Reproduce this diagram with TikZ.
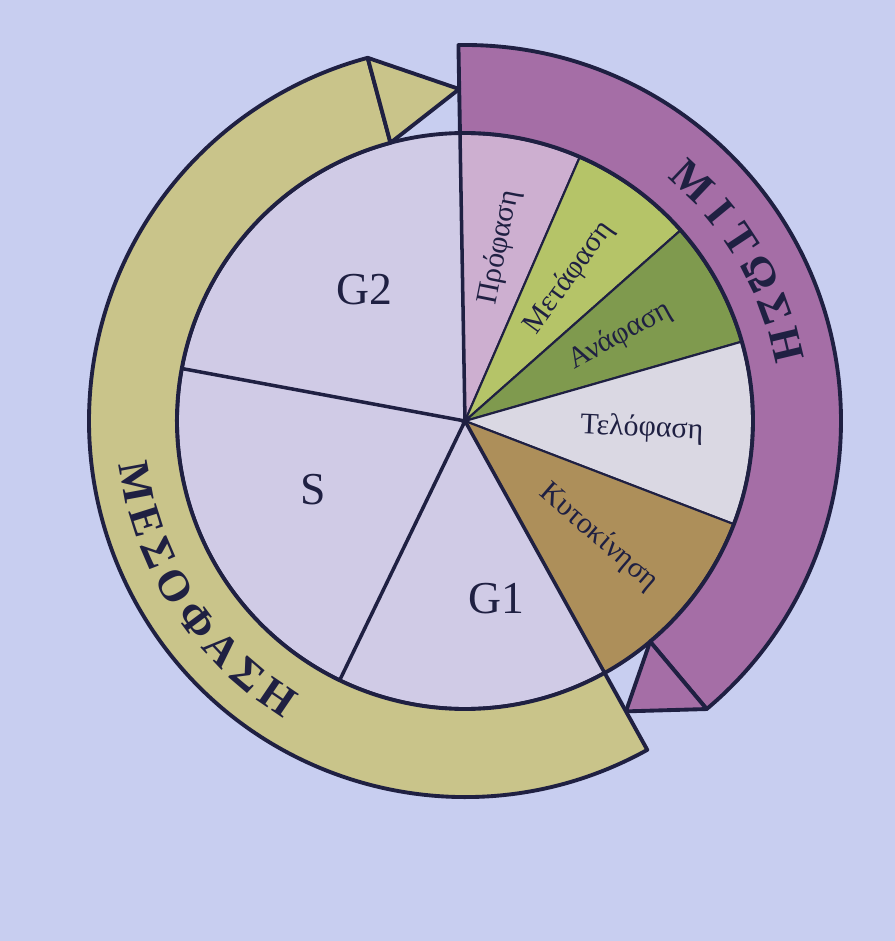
\documentclass[tikz,border=0pt]{standalone}
\usepackage{fontspec}
\setmainfont{Liberation Serif}
\usepackage{xcolor}
\definecolor{pagebg}{HTML}{C8CEF0}
\definecolor{cellbg}{HTML}{D0CBE6}
\definecolor{ink}{HTML}{1F2042}
\definecolor{prophase}{HTML}{CDAFD0}
\definecolor{metaphase}{HTML}{B5C468}
\definecolor{anaphase}{HTML}{7F9A4E}
\definecolor{telophase}{HTML}{DAD8E3}
\definecolor{cyto}{HTML}{AD8F5A}
\definecolor{mitosis}{HTML}{A56EA6}
\definecolor{interphase}{HTML}{C9C48A}
\tikzset{sect/.style={draw=ink,line width=0.6pt},
  band/.style={draw=ink,line width=1.1pt,line join=round},
  spoke/.style={draw=ink,line width=1pt},
  phase/.style={font=\fontsize{8.5}{10}\selectfont,text=ink,inner sep=0pt},
  stage/.style={font=\fontsize{13}{15}\selectfont,text=ink},
  caps/.style={font=\bfseries\fontsize{12.5}{15}\selectfont,text=ink,inner sep=0pt}}

\begin{document}
\begin{tikzpicture}[>=stealth]
    \useasboundingbox (-4.65,-5.20) rectangle (4.30,4.21);
    \fill[pagebg] (-4.65,-5.20) rectangle (4.30,4.21);
    \coordinate (o) at (0,0);

    % cell and phases of mitosis
    \fill[cellbg] (o) circle (2.88);
    \foreach \a/\b/\c/\t [count=\i] in {91/66.5/prophase/Πρόφαση,
        66.5/41.5/metaphase/Μετάφαση, 41.5/16/anaphase/Ανάφαση,
        16/-21/telophase/Τελόφαση, -21/-61/cyto/Κυτοκίνηση}
    {
        \filldraw[sect,fill=\c] (o) -- (\a:2.88) arc (\a:\b:2.88) -- cycle;
        \node[phase,rotate={(\a+\b)/2}] (ph\i) at ({(\a+\b)/2}:1.77) {\t};
    }
    \draw[spoke] (o) -- (91:2.88);
    \draw[spoke] (o) -- (169.5:2.88);
    \draw[spoke] (o) -- (-115.8:2.88);
    \draw[spoke] (o) -- (-61:2.88);
    \draw[band] (o) circle (2.88);

    \node[stage] (g2) at (127.4:1.65) {G2};
    \node[stage] (s) at (204.4:1.67) {S};
    \node[stage] (g1) at (-79.8:1.80) {G1};

    % mitosis band
    \draw[band,fill=mitosis] (91:2.88) -- (91:3.76) arc (91:-50:3.76)
        -- (-50:2.88) arc (-50:91:2.88) -- cycle;
    \draw[band,fill=mitosis] (-50:3.76) -- (-61:3.32) -- (-50:2.88) -- cycle;

    % interphase band
    \draw[band,fill=interphase] (-61:2.88) -- (-61:3.76) arc (-61:-255:3.76)
        -- (-255:2.88) arc (-255:-61:2.88) -- cycle;
    \draw[band,fill=interphase] (-255:3.76) -- (-269:3.32) -- (-255:2.88) -- cycle;

    % band titles
    \foreach \l/\a [count=\i] in {Μ/46.5,Ι/39.4,Τ/33.4,Ω/26.6,Σ/19.9,Η/13.4}
        \node[caps,rotate=\a-90] (mt\i) at (\a:3.30) {\l};
    \foreach \l/\a [count=\i] in {Μ/190.5,Ε/197.5,Σ/203.3,Ο/209.6,Φ/216.6,Α/223.2,Σ/229.5,Η/235.8}
        \node[caps,rotate=\a+90] (ms\i) at (\a:3.34) {\l};
\end{tikzpicture}
\end{document}
